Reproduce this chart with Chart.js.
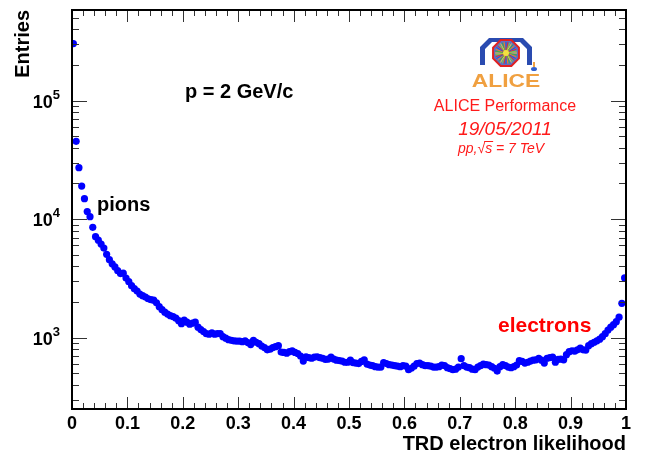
<!DOCTYPE html>
<html>
<head>
<meta charset="utf-8">
<script src="https://cdn.jsdelivr.net/npm/chart.js@4"></script>
<style>
  html, body { margin: 0; padding: 0; background: #fff; }
  #wrap { width: 648px; height: 455px; }
</style>
</head>
<body>
<div id="wrap"><canvas id="container" width="648" height="455"></canvas></div>
<script>
// TRD electron likelihood, 200 bins between 0 and 1
let xRange = [0, 1];
let binWidth = 0.005;
let entries = [
  303000, 45400, 27200, 19000, 14900, 11600, 10500, 8530, 7110, 6650,
  6160, 5700, 5050, 4550, 4200, 3950, 3675, 3470, 3500, 3180,
  2970, 2745, 2590, 2470, 2330, 2260, 2200, 2130, 2090, 2070,
  1970, 1827, 1723, 1640, 1580, 1534, 1505, 1460, 1390, 1310,
  1405, 1350, 1300, 1325, 1350, 1225, 1170, 1125, 1081, 1070,
  1100, 1070, 1081, 1081, 1020, 990, 962, 950, 940, 935,
  935, 925, 940, 908, 875, 950, 915, 890, 850, 825,
  790, 800, 825, 840, 856, 755, 750, 740, 762, 775,
  750, 735, 700, 635, 690, 678, 670, 685, 690, 678,
  670, 655, 660, 685, 660, 645, 640, 635, 620, 620,
  645, 615, 610, 604, 630, 650, 598, 587, 580, 569,
  565, 565, 615, 604, 592, 587, 580, 575, 569, 580,
  575, 537, 552, 575, 604, 610, 592, 580, 580, 575,
  565, 565, 569, 587, 580, 558, 547, 537, 542, 565,
  665, 580, 565, 558, 542, 537, 565, 580, 598, 592,
  587, 569, 552, 522, 569, 592, 580, 565, 558, 569,
  587, 640, 630, 610, 620, 635, 645, 650, 670, 645,
  610, 670, 678, 685, 620, 655, 660, 650, 719, 762,
  775, 770, 790, 815, 790, 785, 856, 890, 915, 940,
  970, 1020, 1081, 1160, 1225, 1288, 1365, 1490, 1950, 3190
];
let yRange = [250, 582000];
let xTickLabels = ['0', '0.1', '0.2', '0.3', '0.4', '0.5', '0.6', '0.7', '0.8', '0.9', '1'];
let yDecades = [3, 4, 5];

let points = entries.map((v, i) => ({ x: xRange[0] + (i + 0.5) * binWidth, y: v }));

const BOLD = 'bold 20px "Liberation Sans", Arial, sans-serif';

// frame, root-style inner ticks and all the labels
const frameAndText = {
  id: 'frameAndText',
  afterDraw(chart) {
    const c = chart.ctx;
    const a = chart.chartArea;
    const xs = chart.scales.x;
    const ys = chart.scales.y;
    c.save();

    // ticks on all four sides
    c.strokeStyle = '#333';
    c.lineWidth = 1;
    c.beginPath();
    for (let i = 0; i <= 50; i++) {
      const px = Math.round(xs.getPixelForValue(i * 0.02)) + 0.5;
      const len = i % 5 === 0 ? 12 : 6;
      c.moveTo(px, a.bottom); c.lineTo(px, a.bottom - len);
      c.moveTo(px, a.top); c.lineTo(px, a.top + len);
    }
    for (let d = 2; d <= 5; d++) {
      for (let m = 1; m <= 9; m++) {
        const v = m * Math.pow(10, d);
        if (v < yRange[0] || v > yRange[1]) continue;
        const py = Math.round(ys.getPixelForValue(v)) + 0.5;
        const len = m === 1 ? 15 : 7;
        c.moveTo(a.left, py); c.lineTo(a.left + len, py);
        c.moveTo(a.right, py); c.lineTo(a.right - len, py);
      }
    }
    c.stroke();

    // frame
    c.strokeStyle = '#000';
    c.lineWidth = 2;
    c.strokeRect(a.left, a.top, a.right - a.left, a.bottom - a.top);

    // x tick labels
    c.fillStyle = '#000';
    c.font = 'bold 18px "Liberation Sans", Arial, sans-serif';
    c.textAlign = 'center';
    c.textBaseline = 'alphabetic';
    xTickLabels.forEach(t => {
      c.fillText(t, xs.getPixelForValue(parseFloat(t)), 429);
    });

    // y tick labels as 10^n
    yDecades.forEach(d => {
      const py = ys.getPixelForValue(Math.pow(10, d));
      c.font = 'bold 13px "Liberation Sans", Arial, sans-serif';
      c.textAlign = 'right';
      const ew = c.measureText(String(d)).width;
      c.fillText(String(d), 60, py - 2);
      c.font = 'bold 18px "Liberation Sans", Arial, sans-serif';
      c.fillText('10', 60 - ew, py + 7);
    });

    // axis titles
    c.font = BOLD;
    c.textAlign = 'right';
    c.fillText('TRD electron likelihood', a.right, 450);
    c.save();
    c.translate(29, a.top);
    c.rotate(-Math.PI / 2);
    c.textAlign = 'right';
    c.fillText('Entries', 0, 0);
    c.restore();

    // annotations
    c.textAlign = 'left';
    c.font = BOLD;
    c.fillText('p = 2 GeV/c', 185, 98);
    c.fillText('pions', 97, 211);
    c.fillStyle = '#ff0000';
    c.font = 'bold 21px "Liberation Sans", Arial, sans-serif';
    c.fillText('electrons', 498, 332);

    // ALICE logo
    drawLogo(c, 506, 52);

    c.fillStyle = '#ff1a1a';
    c.textAlign = 'center';
    c.font = '16px "Liberation Sans", Arial, sans-serif';
    c.fillText('ALICE Performance', 505, 111);
    c.font = 'italic 19px "Liberation Sans", Arial, sans-serif';
    c.fillText('19/05/2011', 505, 135);
    c.font = 'italic 14px "Liberation Sans", Arial, sans-serif';
    c.textAlign = 'left';
    let tx = 458;
    c.fillText('pp,', tx, 153); tx += c.measureText('pp,').width;
    c.fillText('\u221A', tx, 153); tx += c.measureText('\u221A').width;
    const sw = c.measureText('s').width;
    c.fillText('s', tx, 153);
    c.strokeStyle = '#ff1a1a';
    c.lineWidth = 1;
    c.beginPath(); c.moveTo(tx - 1, 141.5); c.lineTo(tx + sw + 1, 141.5); c.stroke();
    tx += sw;
    c.fillText(' = 7 TeV', tx, 153);

    c.restore();
  }
};

function drawLogo(c, cx, cy) {
  // blue housing
  c.fillStyle = '#2a4bb0';
  c.beginPath();
  c.moveTo(cx - 26, cy + 13);
  c.lineTo(cx - 26, cy - 5);
  c.lineTo(cx - 17, cy - 14);
  c.lineTo(cx + 17, cy - 14);
  c.lineTo(cx + 26, cy - 5);
  c.lineTo(cx + 26, cy + 13);
  c.lineTo(cx + 21, cy + 13);
  c.lineTo(cx + 21, cy - 3);
  c.lineTo(cx + 14, cy - 10);
  c.lineTo(cx - 14, cy - 10);
  c.lineTo(cx - 21, cy - 3);
  c.lineTo(cx - 21, cy + 13);
  c.closePath();
  c.fill();
  // red octagon with a burst inside
  c.beginPath();
  for (let k = 0; k < 8; k++) {
    const ang = Math.PI / 8 + k * Math.PI / 4;
    const px = cx + 14 * Math.cos(ang), py = cy + 1 + 14 * Math.sin(ang);
    if (k === 0) c.moveTo(px, py); else c.lineTo(px, py);
  }
  c.closePath();
  c.fillStyle = '#5a6fc8';
  c.fill();
  c.strokeStyle = '#e02020';
  c.lineWidth = 2;
  c.stroke();
  const cols = ['#f0d030', '#40b040', '#f08020', '#3050d0', '#e03030', '#80d040'];
  c.lineWidth = 1;
  for (let k = 0; k < 36; k++) {
    const ang = k * Math.PI / 18;
    c.strokeStyle = cols[k % cols.length];
    c.beginPath();
    c.moveTo(cx, cy + 1);
    c.lineTo(cx + 11 * Math.cos(ang), cy + 1 + 11 * Math.sin(ang));
    c.stroke();
  }
  c.fillStyle = '#f4e040';
  c.beginPath(); c.arc(cx, cy + 1, 3, 0, 2 * Math.PI); c.fill();
  // little figure to the right
  c.fillStyle = '#3060d0';
  c.beginPath(); c.ellipse(cx + 28, cy + 17, 3, 2, 0, 0, 2 * Math.PI); c.fill();
  c.fillStyle = '#f0a040';
  c.fillRect(cx + 27, cy + 10, 2, 5);
  // orange name, spread a little wider
  c.fillStyle = '#f0a040';
  c.font = 'bold 19px "Liberation Sans", Arial, sans-serif';
  c.textAlign = 'center';
  c.save();
  c.translate(cx, cy + 35);
  c.scale(1.2, 1);
  c.fillText('ALICE', 0, 0);
  c.restore();
}

let ctx = document.getElementById('container').getContext('2d');

let myChart = new Chart(ctx, {
  type: 'scatter',
  data: {
    datasets: [{
      data: points,
      backgroundColor: '#0000ff',
      borderWidth: 0,
      pointRadius: 3.6,
      pointHoverRadius: 3.6
    }]
  },
  options: {
    responsive: false,
    animation: false,
    layout: { padding: { left: 72, right: 22, top: 10, bottom: 46 } },
    plugins: {
      legend: { display: false },
      tooltip: { enabled: false }
    },
    scales: {
      x: { type: 'linear', display: false, min: xRange[0], max: xRange[1] },
      y: { type: 'logarithmic', display: false, min: yRange[0], max: yRange[1] }
    }
  },
  plugins: [frameAndText]
});
</script>
</body>
</html>
